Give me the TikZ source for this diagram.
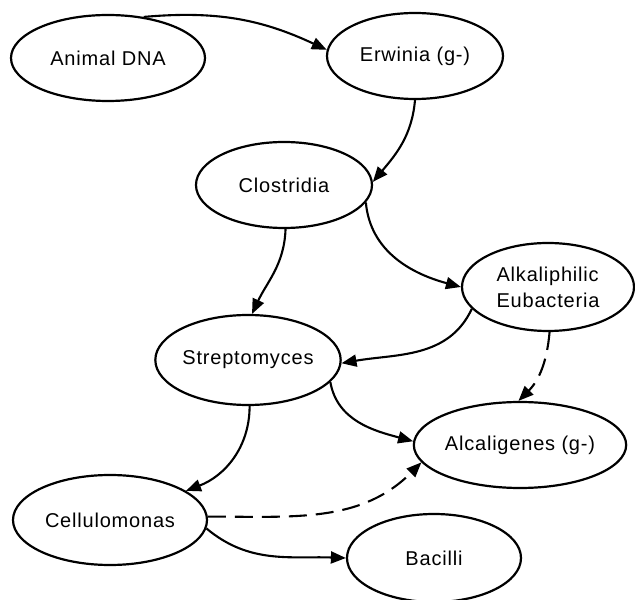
\documentclass[tikz,border=0pt]{standalone}
\usepackage{fontspec}
\setmainfont[LetterSpace=4]{Liberation Sans}
\usetikzlibrary{arrows.meta,shapes.geometric}
\begin{document}
\begin{tikzpicture}[x=1pt,y=1pt,
  blob/.style={ellipse,draw,line width=2.2pt,inner sep=0pt,font=\fontsize{20}{26}\selectfont},
  link/.style={line width=2.1pt,-{Triangle[length=15pt,width=12pt]}},
  dlink/.style={link,dash pattern=on 18pt off 9pt}]
\useasboundingbox (0,0) rectangle (635,600);
\node[blob,minimum width=194pt,minimum height=86pt] (A) at (108,542) {Animal DNA};
\node[blob,minimum width=176pt,minimum height=86pt] (E) at (415,544) {Erwinia (g-)};
\node[blob,minimum width=176pt,minimum height=86pt] (C) at (284,415) {Clostridia};
\node[blob,minimum width=172pt,minimum height=88pt,align=left] (K) at (548,313) {Alkaliphilic\\Eubacteria};
\node[blob,minimum width=176pt,minimum height=90pt] (S) at (248,240) {Streptomyces};
\node[blob,minimum width=176pt,minimum height=86pt] (G) at (520,155) {Alcaligenes (g-)};
\node[blob,minimum width=194pt,minimum height=90pt] (L) at (110,80) {Cellulomonas};
\node[blob,minimum width=174pt,minimum height=88pt] (B) at (434,42) {Bacilli};
\draw[link] (A.49) to[out=5,in=155] (E.176);
\draw[link] (E.-90) to[out=-95,in=50] (C.2);
\draw[link] (C.-88) to[out=-92,in=65] (S.85);
\draw[link] (C.-12) to[out=-85,in=165] (K.180);
\draw[link] (K.196) to[out=-115,in=10] (S.-2);
\draw[dlink] (K.-88) to[out=-95,in=45] (G.92);
\draw[link] (S.-15) to[out=-80,in=165] (G.178);
\draw[link] (S.-88) to[out=-90,in=21] (L.21);
\draw[dlink] (L.2) to[out=0,in=225] (G.190);
\draw[link] (L.-5) to[out=-40,in=178] (B.180);
\end{tikzpicture}
\end{document}
